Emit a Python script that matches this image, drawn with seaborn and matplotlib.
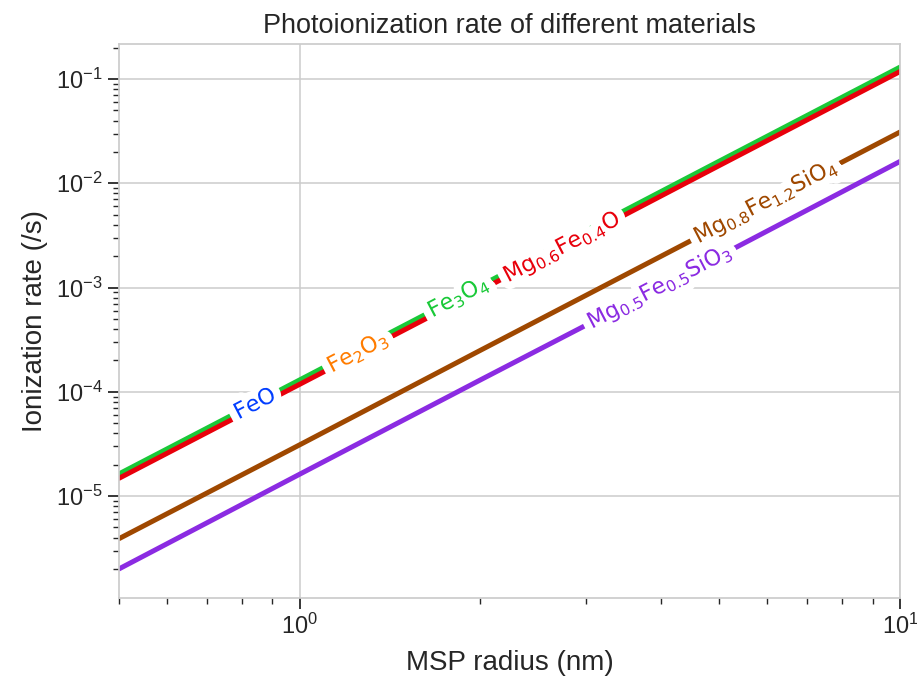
import numpy as np
import pandas as pd
import matplotlib
matplotlib.use("Agg")
import matplotlib.pyplot as plt
import matplotlib.patheffects as pe
import seaborn as sns

# ---- data ----
radius_nm = [0.5, 1.0, 2.0, 5.0, 10.0]
materials = [r"$\mathrm{FeO}$", r"$\mathrm{Fe_2O_3}$", r"$\mathrm{Fe_3O_4}$",
             r"$\mathrm{Mg_{0.6}Fe_{0.4}O}$", r"$\mathrm{Mg_{0.5}Fe_{0.5}SiO_3}$",
             r"$\mathrm{Mg_{0.8}Fe_{1.2}SiO_4}$"]
rate_FeO = [1.56e-5, 1.25e-4, 1.0e-3, 1.56e-2, 0.125]
rate_Fe2O3 = [1.53e-5, 1.22e-4, 9.8e-4, 1.53e-2, 0.122]
rate_Fe3O4 = [1.63e-5, 1.30e-4, 1.04e-3, 1.63e-2, 0.130]
rate_MgFeO = [1.48e-5, 1.18e-4, 9.4e-4, 1.48e-2, 0.118]
rate_MgFeSiO3 = [2.0e-6, 1.62e-5, 1.3e-4, 2.0e-3, 0.0162]
rate_MgFeSiO4 = [3.9e-6, 3.1e-5, 2.5e-4, 3.9e-3, 0.031]
label_x = [0.845, 1.25, 1.84, 2.74, 3.98, 5.98]

series = [rate_FeO, rate_Fe2O3, rate_Fe3O4, rate_MgFeO, rate_MgFeSiO3, rate_MgFeSiO4]
df = pd.DataFrame({
    "radius": np.tile(radius_nm, len(materials)),
    "rate": np.concatenate(series),
    "material": np.repeat(materials, len(radius_nm)),
})

sns.set_theme(style="whitegrid")
plt.rcParams["font.family"] = "sans-serif"
plt.rcParams["font.sans-serif"] = ["Liberation Sans", "DejaVu Sans"]
plt.rcParams["mathtext.fontset"] = "dejavusans"

palette = sns.color_palette("bright", 6)
colors = [palette[0], palette[1], palette[2], palette[3], palette[4], palette[5]]

fig = plt.figure(figsize=(9.17, 6.9), dpi=100)
ax = fig.add_axes([119/917, 1 - 598/690, (900 - 119)/917, (598 - 44)/690])

sns.lineplot(data=df, x="radius", y="rate", hue="material", palette=colors,
             hue_order=materials, linewidth=3.6, legend=False, ax=ax)

ax.set_xscale("log")
ax.set_yscale("log")
ax.set_xlim(0.5, 10)
ax.set_ylim(10**-5.978, 10**-0.664)

ax.grid(True, which="major", color="#cccccc", linewidth=1.1)
ax.grid(False, which="minor")
for s in ax.spines.values():
    s.set_color("#cccccc")
    s.set_linewidth(1.25)

ax.tick_params(which="major", left=True, bottom=True, length=8, width=1.3,
               color="#262626", labelsize=17, labelcolor="#262626")
ax.tick_params(which="minor", left=True, bottom=True, length=4.5, width=1.0,
               color="#262626")

ax.set_title("Photoionization rate of different materials", fontsize=19.5,
             color="#262626", pad=8)
ax.set_xlabel("MSP radius (nm)", fontsize=20, color="#262626", labelpad=8)
ax.set_ylabel("Ionization rate (/s)", fontsize=20, color="#262626", labelpad=6)

# inline labels on each line
fig.canvas.draw()
for name, vals, lx, col in zip(materials, series, label_x, colors):
    lr = np.log10(radius_nm)
    lv = np.log10(vals)
    ly = 10 ** np.interp(np.log10(lx), lr, lv)
    p1 = ax.transData.transform((lx, ly))
    lx2 = lx * 1.1
    ly2 = 10 ** np.interp(np.log10(lx2), lr, lv)
    p2 = ax.transData.transform((lx2, ly2))
    ang = np.degrees(np.arctan2(p2[1] - p1[1], p2[0] - p1[0]))
    ax.text(lx, ly, name, color=col, fontsize=16, rotation=ang,
            rotation_mode="anchor", ha="center", va="center", zorder=3,
            path_effects=[pe.withStroke(linewidth=11, foreground="white")])

fig.savefig("out.png", dpi=100)
